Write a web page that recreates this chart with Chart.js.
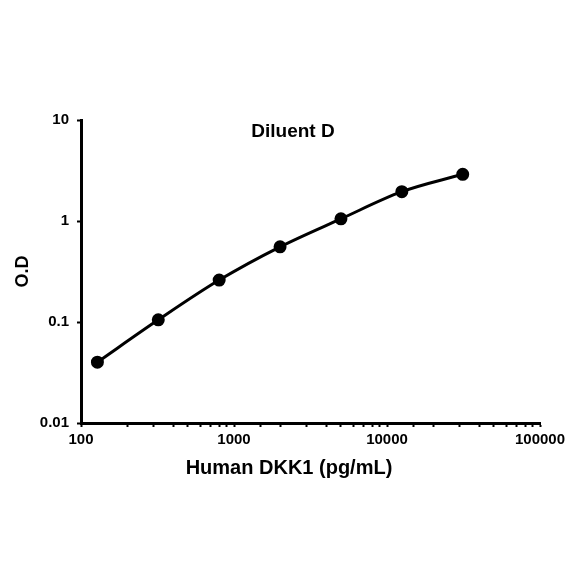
<!DOCTYPE html>
<html>
<head>
<meta charset="utf-8">
<script src="https://cdn.jsdelivr.net/npm/chart.js@4/dist/chart.umd.min.js"></script>
<style>
  html, body { margin: 0; padding: 0; background: #fff; }
  #wrap { width: 584px; height: 584px; }
</style>
</head>
<body>
<div id="wrap"><canvas id="chart" width="584" height="584"></canvas></div>
<script>
// concentrations (pg/mL) and O.D
const concentrations = [128, 320, 800, 2000, 5000, 12500, 31250];
const odValues = [0.040, 0.105, 0.26, 0.555, 1.05, 1.95, 2.9];
const xTickLabels = [100, 1000, 10000, 100000];
const yTickLabels = [0.01, 0.1, 1, 10];

const chartTitle = 'Diluent D';
const xTitle = 'Human DKK1 (pg/mL)';
const fontFamily = '"Liberation Sans", Arial, sans-serif';

// chart title sits inside the plot area and the x title is off-centre,
// so both are drawn here
const extraTitles = {
    id: 'extraTitles',
    afterDraw(chart) {
        const ctx = chart.ctx;
        const area = chart.chartArea;
        ctx.save();
        ctx.fillStyle = '#000';
        ctx.textAlign = 'center';
        ctx.textBaseline = 'middle';
        ctx.font = 'bold 19px ' + fontFamily;
        ctx.fillText(chartTitle, area.left + 212, area.top + 12);
        ctx.font = 'bold 20px ' + fontFamily;
        ctx.fillText(xTitle, area.left + 208, area.bottom + 45);
        ctx.restore();
    }
};

function isDecade(v) {
    const l = Math.log10(v);
    return Math.abs(l - Math.round(l)) < 1e-9;
}

new Chart(document.getElementById('chart'), {
    type: 'line',
    data: {
        datasets: [{
            data: concentrations.map((c, i) => ({ x: c, y: odValues[i] })),
            borderColor: '#000',
            backgroundColor: '#000',
            borderWidth: 3,
            pointRadius: 5,
            pointHoverRadius: 5,
            tension: 0.4,
            cubicInterpolationMode: 'monotone'
        }]
    },
    options: {
        responsive: false,
        animation: false,
        layout: { padding: { left: 0, top: 120, right: 44, bottom: 101 } },
        plugins: { legend: { display: false }, tooltip: { enabled: false } },
        scales: {
            x: {
                type: 'logarithmic',
                min: 100,
                max: 100000,
                afterFit: s => { s.height = 60; },
                afterBuildTicks: s => {
                    s.ticks = s.ticks.filter(t => t.value >= 100 && t.value <= 100000);
                },
                border: { color: '#000', width: 3 },
                grid: {
                    drawOnChartArea: false,
                    drawTicks: true,
                    tickLength: 4,
                    tickWidth: 2,
                    tickColor: '#000'
                },
                ticks: {
                    color: '#000',
                    autoSkip: false,
                    maxRotation: 0,
                    padding: 4,
                    font: { family: fontFamily, size: 15, weight: 'bold' },
                    callback: v => xTickLabels.includes(v) ? String(v) : ''
                }
            },
            y: {
                type: 'logarithmic',
                min: 0.01,
                max: 10,
                afterFit: s => { s.width = 81; },
                afterBuildTicks: s => {
                    s.ticks = s.ticks.filter(t => isDecade(t.value));
                },
                border: { color: '#000', width: 3 },
                grid: {
                    drawOnChartArea: false,
                    drawTicks: true,
                    tickLength: 4,
                    tickWidth: 2,
                    tickColor: '#000'
                },
                ticks: {
                    color: '#000',
                    autoSkip: false,
                    padding: 8,
                    font: { family: fontFamily, size: 15, weight: 'bold' },
                    callback: v => {
                        const m = yTickLabels.find(t => Math.abs(t - v) / t < 1e-6);
                        return m !== undefined ? String(m) : '';
                    }
                },
                title: {
                    display: true,
                    text: 'O.D',
                    color: '#000',
                    padding: { top: 12, bottom: 0 },
                    font: { family: fontFamily, size: 18, weight: 'bold' }
                }
            }
        }
    },
    plugins: [extraTitles]
});
</script>
</body>
</html>
